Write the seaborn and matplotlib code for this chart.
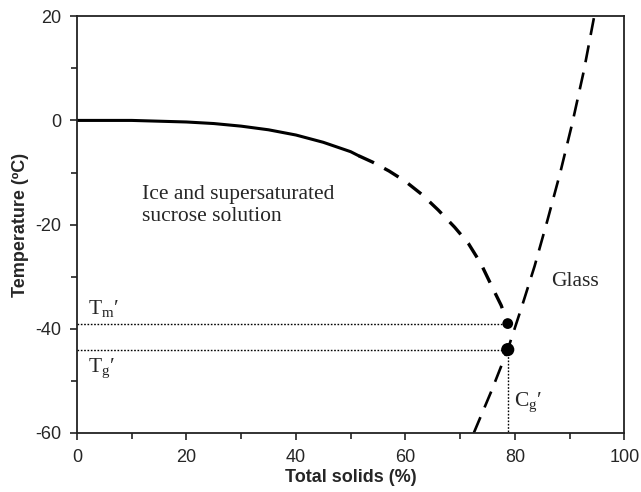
import numpy as np
import pandas as pd
import matplotlib
matplotlib.use("Agg")
import matplotlib.pyplot as plt
import seaborn as sns

# freezing curve (ice melting), solid part then extrapolated dashed part
freeze_x = [0, 10, 20, 25, 30, 35, 40, 45, 50, 51.5]
freeze_y = [0, 0, -0.3, -0.6, -1.1, -1.8, -2.8, -4.2, -6.0, -6.8]
freeze_ext_x = [51.5, 54, 57, 60, 63, 66, 69, 71.5, 73.8, 76, 77.5, 78.7]
freeze_ext_y = [-6.8, -8, -9.7, -11.7, -14.2, -17.2, -20.5, -23.6, -27.5, -32.3, -35.5, -39]

# glass transition curve
glass_x = [72.5, 75.7, 78.7, 81.2, 83.6, 86.0, 88.3, 90.5, 92.6, 94.5]
glass_y = [-60, -52, -44, -36, -28, -19, -10, -0.5, 9.5, 20]

# special points
tm_x, tm_y = 78.7, -39
tg_x, tg_y = 78.7, -44

sns.set_style("ticks")
plt.rcParams['font.family'] = ['Liberation Sans', 'DejaVu Sans']
plt.rcParams['axes.unicode_minus'] = False
plt.rcParams['mathtext.fontset'] = 'custom'
plt.rcParams['mathtext.rm'] = 'Liberation Serif'

fig = plt.figure(figsize=(6.41, 4.92), dpi=100)
ax = fig.add_axes([0.120, 0.120, 0.854, 0.847])

sns.lineplot(x=freeze_x, y=freeze_y, ax=ax, color='black', lw=2.2)
sns.lineplot(x=freeze_ext_x, y=freeze_ext_y, ax=ax, color='black', lw=2.4,
             linestyle=(0, (5, 3.5)))
sns.lineplot(x=glass_x, y=glass_y, ax=ax, color='black', lw=1.9,
             linestyle=(0, (6.5, 4)))

# dotted guide lines
dot = (0, (1.2, 1.2))
ax.plot([0, tm_x], [tm_y, tm_y], color='black', lw=1.0, linestyle=dot)
ax.plot([0, tg_x], [tg_y, tg_y], color='black', lw=1.0, linestyle=dot)
ax.plot([tg_x, tg_x], [tg_y, -60], color='black', lw=1.0, linestyle=dot)

sns.scatterplot(x=[tm_x], y=[tm_y], ax=ax, color='black', s=60, edgecolor='none', zorder=5)
sns.scatterplot(x=[tg_x], y=[tg_y], ax=ax, color='black', s=90, edgecolor='none', zorder=5)

serif = ['Liberation Serif', 'DejaVu Serif']
fs = 15.5
ax.text(11.8, -15.1, "Ice and supersaturated", family=serif, fontsize=fs, va='baseline')
ax.text(11.8, -19.3, "sucrose solution", family=serif, fontsize=fs, va='baseline')
ax.text(86.6, -31.8, "Glass", family=serif, fontsize=fs, va='baseline')
ax.text(2.0, -37.2, "T$_\\mathregular{m}$\u2032", family=serif, fontsize=fs, va='baseline')
ax.text(2.0, -48.3, "T$_\\mathregular{g}$\u2032", family=serif, fontsize=fs, va='baseline')
ax.text(79.8, -54.9, "C$_\\mathregular{g}$\u2032", family=serif, fontsize=fs, va='baseline')

ax.set_xlim(0, 100)
ax.set_ylim(-60, 20)
ax.set_xticks([0, 20, 40, 60, 80, 100])
ax.set_yticks([-60, -40, -20, 0, 20])
ax.set_xticks(np.arange(10, 100, 20), minor=True)
ax.set_yticks(np.arange(-50, 20, 20), minor=True)
ax.tick_params(axis='both', which='major', labelsize=13, length=5, width=1.2,
               color='#222222')
ax.tick_params(axis='x', which='major', pad=6.5)
ax.tick_params(axis='y', which='major', pad=6)
ax.tick_params(axis='both', which='minor', length=4, width=1.2, color='#222222')
for s in ax.spines.values():
    s.set_linewidth(1.3)
    s.set_color('#222222')

ax.set_xlabel("Total solids (%)", fontsize=13, fontweight='bold', labelpad=2)
ax.set_ylabel("Temperature (ºC)", fontsize=13, fontweight='bold', labelpad=5)

fig.savefig("out.png", dpi=100)
